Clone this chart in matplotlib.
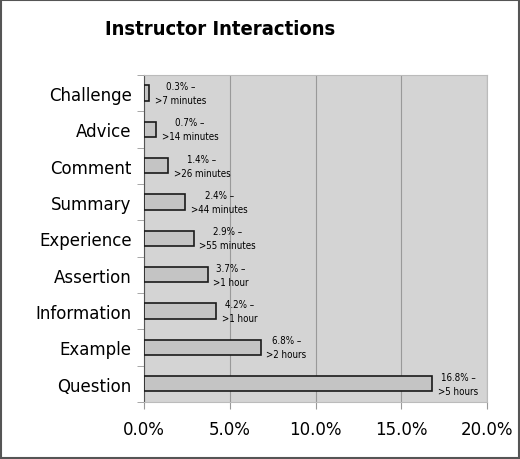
import numpy as np
import matplotlib
matplotlib.use("Agg")
import matplotlib.pyplot as plt
from matplotlib.patches import Rectangle

categories = ["Challenge", "Advice", "Comment", "Summary", "Experience",
              "Assertion", "Information", "Example", "Question"]
values = [0.3, 0.7, 1.4, 2.4, 2.9, 3.7, 4.2, 6.8, 16.8]
durations = [">7 minutes", ">14 minutes", ">26 minutes", ">44 minutes", ">55 minutes",
             ">1 hour", ">1 hour", ">2 hours", ">5 hours"]
xticks = [0, 5, 10, 15, 20]

fig = plt.figure(figsize=(5.2, 4.6), dpi=100)
fig.patches.append(Rectangle((0.002, 0.002), 0.996, 0.996, transform=fig.transFigure,
                             fill=False, edgecolor="#555555", linewidth=1.5))
ax = fig.add_axes([0.277, 0.124, 0.66, 0.711])
ax.set_facecolor("#d4d4d4")

y = np.arange(len(categories))
ax.barh(y, values, height=0.42, color="#c4c4c4", edgecolor="#1a1a1a", linewidth=1.2, zorder=3)

for yi, v, d in zip(y, values, durations):
    ax.annotate(f"{v:.1f}% \u2013\n{d}", xy=(v, yi), xytext=(4, 0), textcoords="offset points",
                ha="left", va="center", multialignment="center", fontsize=7,
                family="DejaVu Sans", fontstretch="condensed", linespacing=1.5, zorder=4)

ax.set_xlim(0, 20)
ax.set_ylim(len(categories) - 0.5, -0.5)
ax.set_xticks(xticks)
ax.set_xticklabels([f"{t:.1f}%" for t in xticks], fontsize=12, family="DejaVu Sans")
ax.set_yticks(y)
ax.set_yticklabels(categories, fontsize=12, family="DejaVu Sans")
ax.set_yticks(np.arange(-0.5, len(categories), 1), minor=True)
ax.tick_params(axis="y", which="major", length=0, pad=9)
ax.tick_params(axis="y", which="minor", length=5, color="#999999", direction="out")
ax.tick_params(axis="x", length=5, color="#999999", pad=8)

ax.grid(axis="x", color="#999999", linewidth=0.8, zorder=1)
ax.spines["left"].set_color("#555555")
for s in ["top", "right", "bottom"]:
    ax.spines[s].set_color("#bbbbbb")

fig.text(0.202, 0.935, "Instructor Interactions", fontsize=14.5, fontweight="bold",
         family="DejaVu Sans", fontstretch="condensed", ha="left", va="center")

fig.savefig("out.png", dpi=100)
